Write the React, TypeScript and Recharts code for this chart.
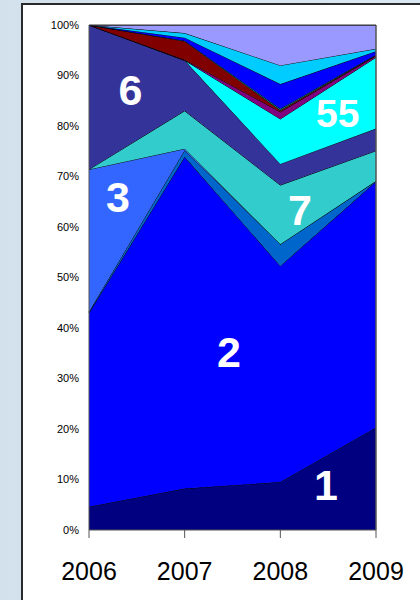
import React from "react";
import { AreaChart, Area, XAxis, YAxis, ReferenceLine } from "recharts";

const years = ["2006", "2007", "2008", "2009"];
const s1 = [4.6, 8.2, 9.5, 20.3];
const s2 = [38.4, 65.7, 42.8, 48.7];
const s3 = [0.2, 1.3, 4.3, 0.1];
const s4 = [28.2, 0.3, 0, 0];
const s5 = [0, 7.5, 11.7, 6.0];
const s6 = [28.6, 10.0, 4.2, 4.4];
const s7 = [0, 0, 8.9, 14.1];
const s8 = [0, 0.1, 1.4, 0.3];
const s9 = [0, 3.7, 0.3, 0.1];
const s10 = [0, 0.1, 0.3, 0.1];
const s11 = [0, 0.6, 4.9, 0.7];
const s12 = [0, 0.9, 3.7, 0.5];
const s13 = [0, 1.6, 8.0, 4.7];

const seriesList = [s1, s2, s3, s4, s5, s6, s7, s8, s9, s10, s11, s12, s13];
const colors = [
  "#000080",
  "#0000FF",
  "#0066CC",
  "#3366FF",
  "#33CCCC",
  "#333399",
  "#00FFFF",
  "#800080",
  "#800000",
  "#008080",
  "#0000FF",
  "#00CCFF",
  "#9999FF",
];
const yTicks = [0, 10, 20, 30, 40, 50, 60, 70, 80, 90, 100];

const labels = [
  { text: "6", x: 130.5, y: 105, size: 43 },
  { text: "3", x: 118, y: 212, size: 43 },
  { text: "7", x: 300, y: 225, size: 43 },
  { text: "55", x: 337.7, y: 126.5, size: 39 },
  { text: "2", x: 229, y: 366.5, size: 43 },
  { text: "1", x: 326, y: 500, size: 43 },
];

const data = years.map((year, i) => {
  const row: Record<string, string | number> = { year };
  seriesList.forEach((s, k) => {
    row["s" + (k + 1)] = s[i];
  });
  return row;
});

export default function App() {
  return (
    <div
      style={{
        position: "absolute",
        left: 0,
        top: 0,
        width: 420,
        height: 600,
        overflow: "hidden",
        background: "linear-gradient(to right, #d3e1ed, #dbe7f1)",
        fontFamily: "'Liberation Sans', Arial, sans-serif",
      }}
    >
      <div
        style={{
          position: "absolute",
          left: 21,
          top: 3,
          width: 440,
          height: 640,
          background: "#ffffff",
          border: "2px solid #2a2a2a",
          boxSizing: "border-box",
        }}
      />
      <div style={{ position: "absolute", left: 0, top: 0 }}>
        <AreaChart
          width={420}
          height={600}
          data={data}
          margin={{ top: 25, right: 44, left: 0, bottom: 30 }}
        >
          <XAxis
            dataKey="year"
            height={40}
            tickSize={8}
            tickMargin={24}
            axisLine={{ stroke: "#555555" }}
            tickLine={{ stroke: "#555555" }}
            tick={{ fontSize: 25, fill: "#000000", fontFamily: "'Liberation Sans', Arial, sans-serif" }}
            interval={0}
          />
          <YAxis
            width={89}
            domain={[0, 100]}
            ticks={yTicks}
            allowDataOverflow
            tickFormatter={(v: number) => v + "%"}
            tickSize={0}
            tickMargin={10}
            axisLine={{ stroke: "#555555" }}
            tick={{ fontSize: 11, fill: "#000000", fontFamily: "'Liberation Sans', Arial, sans-serif" }}
          />
          {seriesList.map((_, k) => (
            <Area
              key={k}
              type="linear"
              dataKey={"s" + (k + 1)}
              stackId="a"
              fill={colors[k]}
              fillOpacity={1}
              stroke="#000000"
              strokeWidth={1}
              isAnimationActive={false}
              dot={false}
              activeDot={false}
            />
          ))}
          <ReferenceLine x="2009" stroke="#555555" strokeWidth={1.5} />
          <ReferenceLine y={100} stroke="#333333" strokeWidth={1} />
        </AreaChart>
      </div>
      <svg
        width={420}
        height={600}
        style={{ position: "absolute", left: 0, top: 0, pointerEvents: "none" }}
      >
        {labels.map((l) => (
          <text
            key={l.text}
            x={l.x}
            y={l.y}
            textAnchor="middle"
            fill="#ffffff"
            fontWeight="bold"
            fontSize={l.size}
            fontFamily="'Liberation Sans', Arial, sans-serif"
          >
            {l.text}
          </text>
        ))}
      </svg>
    </div>
  );
}
